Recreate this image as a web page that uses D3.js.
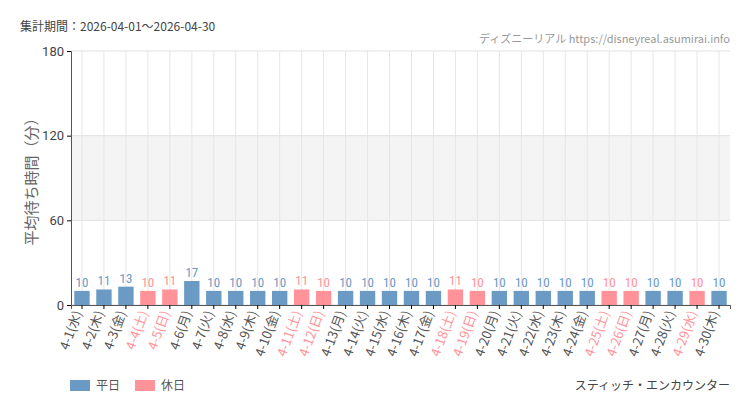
<!DOCTYPE html>
<html lang="ja">
<head>
<meta charset="UTF-8">
<script src="https://d3js.org/d3.v7.min.js"></script>
<style>
  body { margin: 0; background: #fff; }
  text { font-family: "Noto Sans CJK JP", "Noto Sans", sans-serif; }
</style>
</head>
<body>
<div id="chart"></div>
<script>
// 日付・曜日・平均待ち時間
var days = ["4-1","4-2","4-3","4-4","4-5","4-6","4-7","4-8","4-9","4-10",
            "4-11","4-12","4-13","4-14","4-15","4-16","4-17","4-18","4-19","4-20",
            "4-21","4-22","4-23","4-24","4-25","4-26","4-27","4-28","4-29","4-30"];
var weekdays = ["水","木","金","土","日","月","火","水","木","金",
                "土","日","月","火","水","木","金","土","日","月",
                "火","水","木","金","土","日","月","火","水","木"];
var waits = [10,11,13,10,11,17,10,10,10,10,
             11,10,10,10,10,10,10,11,10,10,
             10,10,10,10,10,10,10,10,10,10];
var holidays = [0,0,0,1,1,0,0,0,0,0,
                1,1,0,0,0,0,0,1,1,0,
                0,0,0,0,1,1,0,0,1,0];
var yTicks = [0, 60, 120, 180];

var W = 750, H = 410;
var m = {left: 71, right: 20, top: 51, bottom: 105};
var blue = "#6b9ac4", pink = "#ff9399";

var svg = d3.select("#chart").append("svg").attr("width", W).attr("height", H);

var x = d3.scaleBand().domain(days).range([m.left, W - m.right]).paddingInner(0.3).paddingOuter(0.15);
var y = d3.scaleLinear().domain([0, 180]).range([H - m.bottom, m.top]);

// 背景帯
svg.append("rect")
    .attr("x", m.left).attr("width", W - m.right - m.left)
    .attr("y", y(120)).attr("height", y(60) - y(120))
    .attr("fill", "#f3f4f3");

// グリッド
svg.append("g").selectAll("line").data(days).enter().append("line")
    .attr("x1", d => x(d) + x.bandwidth() / 2).attr("x2", d => x(d) + x.bandwidth() / 2)
    .attr("y1", y(180)).attr("y2", y(0))
    .attr("stroke", "#e6e6e6");
svg.append("g").selectAll("line").data(yTicks).enter().append("line")
    .attr("x1", m.left).attr("x2", W - m.right)
    .attr("y1", d => y(d)).attr("y2", d => y(d))
    .attr("stroke", "#e2e2e2");

// 棒
svg.append("g").selectAll("rect").data(waits).enter().append("rect")
    .attr("x", (d, i) => x(days[i]))
    .attr("width", x.bandwidth())
    .attr("y", d => y(d))
    .attr("height", d => y(0) - y(d))
    .attr("fill", (d, i) => holidays[i] ? pink : blue);

svg.append("g").selectAll("text").data(waits).enter().append("text")
    .attr("x", (d, i) => x(days[i]) + x.bandwidth() / 2)
    .attr("y", d => y(d) - 4)
    .attr("text-anchor", "middle")
    .style("font-family", "'Roboto Condensed', 'DejaVu Sans Condensed', sans-serif")
    .style("font-size", "13px")
    .attr("fill", (d, i) => holidays[i] ? pink : blue)
    .text(d => d);

// 軸
var yAxis = svg.append("g").attr("transform", "translate(" + m.left + ",0)")
    .call(d3.axisLeft(y).tickValues(yTicks).tickSize(4));
yAxis.select(".domain").attr("stroke", "#555");
yAxis.selectAll("text").style("font-size", "13px").attr("fill", "#444").style("font-family", "Roboto, sans-serif");

var xAxis = svg.append("g").attr("transform", "translate(0," + y(0) + ")")
    .call(d3.axisBottom(x).tickSize(4).tickFormat((d, i) => d + "(" + weekdays[i] + ")"));
xAxis.select(".domain").attr("stroke", "#555");
xAxis.selectAll("text")
    .attr("text-anchor", "end")
    .attr("transform", "translate(-4,6) rotate(-70)")
    .attr("dy", "0.35em").attr("y", 0).attr("x", 0)
    .style("font-size", "13px")
    .attr("fill", (d, i) => holidays[i] ? pink : "#555");

// ラベル類
svg.append("text").attr("x", 20).attr("y", 31).attr("fill", "#444")
    .style("font-size", "12px").text("集計期間：2026-04-01～2026-04-30");
svg.append("text").attr("x", 730).attr("y", 43).attr("text-anchor", "end").attr("fill", "#999")
    .style("font-size", "11px").text("ディズニーリアル https://disneyreal.asumirai.info");
svg.append("text").attr("transform", "translate(37," + ((y(0) + y(180)) / 2) + ") rotate(-90)")
    .attr("text-anchor", "middle").attr("fill", "#666")
    .style("font-size", "15px").text("平均待ち時間（分）");
svg.append("text").attr("x", 730).attr("y", 390).attr("text-anchor", "end").attr("fill", "#444")
    .style("font-size", "12px").text("スティッチ・エンカウンター");

var legend = [["平日", blue], ["休日", pink]];
var lg = svg.append("g").selectAll("g").data(legend).enter().append("g")
    .attr("transform", (d, i) => "translate(" + (70 + i * 65) + ",380)");
lg.append("rect").attr("width", 20).attr("height", 11).attr("fill", d => d[1]);
lg.append("text").attr("x", 26).attr("y", 10).attr("fill", "#555").style("font-size", "12px").text(d => d[0]);
</script>
</body>
</html>
